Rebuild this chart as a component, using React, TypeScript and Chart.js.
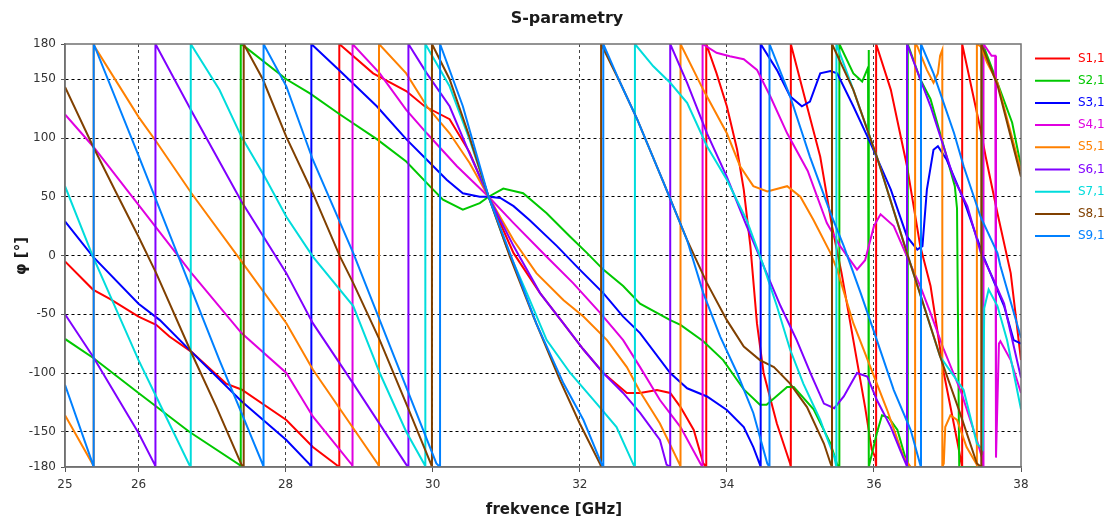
import React, { useEffect, useRef } from "react";
import { Chart, registerables } from "chart.js";

Chart.register(...registerables);

// ---------- data (GHz, degrees) ----------
const xTicks = [25, 26, 28, 30, 32, 34, 36, 38];
const yTicks = [180, 150, 100, 50, 0, -50, -100, -150, -180];
const seriesNames = ["S1,1", "S2,1", "S3,1", "S4,1", "S5,1", "S6,1", "S7,1", "S8,1", "S9,1"];
const seriesColors = ["#ff0000", "#00c800", "#0000ff", "#e000e0", "#ff8000", "#8000ff", "#00dcdc", "#804000", "#0080ff"];

const s11: [number, number][] = [
  [25, -5], [25.38, -29], [25.61, -37], [26, -52], [26.24, -59], [26.42, -69], [26.72, -82], [27.19, -109], [27.4, -114],
  [28.01, -140], [28.37, -163], [28.73, -180], [28.73, 180], [29.19, 155], [29.64, 140], [29.89, 127], [30.23, 116],
  [30.5, 88], [30.76, 50], [31.1, 2], [31.46, -32], [31.78, -58], [32.05, -80], [32.32, -100], [32.64, -117], [32.82, -117],
  [33.05, -114.5], [33.23, -117], [33.37, -129], [33.55, -148.5], [33.68, -177], [33.72, -180], [33.72, 180], [33.86, 155],
  [34.0, 127], [34.14, 90], [34.23, 56], [34.32, 8], [34.41, -58], [34.5, -100], [34.68, -143], [34.86, -177], [34.87, -180],
  [34.87, 180], [35.09, 127], [35.27, 84], [35.43, 25], [35.56, -15], [35.72, -72], [35.88, -129], [35.97, -165], [36.02, -172],
  [36.03, -180], [36.03, 180], [36.23, 141], [36.45, 76], [36.63, 8], [36.77, -26], [36.95, -100], [37.13, -157], [37.19, -177],
  [37.2, -180], [37.2, 180], [37.45, 107], [37.52, 84], [37.68, 36], [37.86, -15], [38, -89],
];
const s21: [number, number][] = [
  [25, -71], [25.38, -87], [26, -117], [26.69, -150], [27.37, -178], [27.39, -180], [27.39, 180], [27.44, 178], [28.01, 150],
  [28.33, 138], [28.74, 120], [29.24, 99], [29.64, 80], [29.96, 59], [30.14, 47.5], [30.41, 39], [30.64, 44.6], [30.76, 50],
  [30.96, 57], [31.23, 53], [31.55, 36], [31.87, 16], [32.1, 2], [32.32, -12], [32.59, -26], [32.82, -41], [33.23, -55],
  [33.37, -59], [33.68, -73], [33.95, -89], [34.23, -114], [34.45, -127], [34.54, -127], [34.82, -112], [34.91, -112],
  [35.18, -131], [35.41, -160], [35.5, -178], [35.53, -180], [35.53, 180], [35.72, 155], [35.84, 148], [35.92, 160],
  [35.93, 175], [35.93, -180], [36.04, -151], [36.11, -136], [36.2, -138], [36.32, -148.5], [36.45, -177], [36.46, -180],
  [36.46, 180], [36.63, 150], [36.77, 133], [36.9, 104], [37.1, 59], [37.13, 40], [37.16, -180], [37.48, -180], [37.48, 180],
  [37.68, 147], [37.88, 113], [38, 76],
];
const s31: [number, number][] = [
  [25, 29], [25.38, -1], [26, -41], [26.29, -55], [26.72, -82], [27.4, -124], [28.01, -157], [28.33, -178], [28.35, -180],
  [28.35, 180], [28.74, 157], [29.24, 127], [29.64, 99], [29.92, 81.5], [30.19, 64.5], [30.41, 53], [30.64, 50], [30.76, 50],
  [30.92, 49], [31.1, 42], [31.32, 30], [31.69, 8], [32.0, -12], [32.32, -32], [32.59, -52], [32.82, -66], [33.23, -100],
  [33.46, -113], [33.73, -120], [34.0, -131.5], [34.23, -146], [34.36, -163], [34.45, -178], [34.46, -180], [34.46, 180],
  [34.68, 158], [34.86, 135.5], [35.02, 127], [35.13, 131], [35.27, 155], [35.41, 157], [35.5, 155], [35.72, 127], [35.95, 96],
  [36.23, 56], [36.45, 16], [36.59, 5], [36.66, 8], [36.72, 56], [36.81, 90], [36.87, 93], [36.99, 81.5], [37.22, 47.5],
  [37.49, -1], [37.77, -43], [37.9, -72], [38, -75],
];
const s41: [number, number][] = [
  [25, 120], [25.38, 93], [26, 43], [26.72, -15], [27.4, -66], [28.01, -100], [28.37, -137], [28.9, -178], [28.91, -180],
  [28.91, 180], [29.28, 155], [29.64, 124], [29.92, 104], [30.33, 76], [30.76, 50], [31.1, 27.6], [31.55, -1], [31.91, -23.5],
  [32.28, -49], [32.59, -72], [32.82, -95], [33.09, -123], [33.37, -146], [33.64, -177], [33.67, -180], [33.67, 180],
  [33.86, 172.5], [34.04, 169.6], [34.23, 167], [34.41, 158], [34.59, 135.5], [34.82, 104], [35.1, 72], [35.36, 27.6],
  [35.54, 8], [35.77, -12], [35.88, -4], [36.0, 25], [36.09, 35], [36.27, 25], [36.45, -1], [36.63, -26], [36.77, -49],
  [36.95, -80], [37.19, -117], [37.4, -157], [37.47, -172], [37.49, -180], [37.49, 180], [37.6, 170], [37.65, 170],
  [37.66, -172], [37.7, -75], [37.72, -73], [37.86, -89], [38, -117],
];
const s51: [number, number][] = [
  [25, -136], [25.38, -178], [25.39, -180], [25.39, 180], [25.4, 178], [26, 118], [26.24, 97], [26.72, 53], [27.4, -5],
  [28.01, -57.6], [28.37, -97], [28.92, -147], [29.26, -178], [29.27, -180], [29.27, 180], [29.64, 155], [29.92, 127],
  [30.23, 104], [30.5, 79], [30.76, 50], [31.1, 13], [31.41, -15], [31.78, -38], [32.05, -52], [32.37, -72], [32.64, -95],
  [32.82, -116], [33.09, -143], [33.36, -178], [33.37, -180], [33.37, 180], [33.68, 141], [34.0, 104], [34.18, 76],
  [34.36, 59], [34.55, 54.5], [34.82, 59], [35.0, 50], [35.18, 30], [35.41, 2], [35.5, -12], [35.72, -57.6], [35.95, -94.6],
  [36.18, -131.5], [36.4, -171], [36.5, -180], [36.56, -180], [36.56, 180], [36.59, 178], [36.72, 158], [36.81, 147],
  [36.87, 155], [36.9, 170], [36.93, 175], [36.93, -180], [36.95, -177], [36.97, -146], [37.04, -136], [37.13, -140],
  [37.26, -163], [37.4, -178], [37.4, -180], [37.4, 180], [37.45, 178], [37.54, 164], [37.68, 147], [38, 72],
];
const s61: [number, number][] = [
  [25, -50], [25.38, -86], [26, -151], [26.22, -178], [26.23, -180], [26.23, 180], [26.72, 123], [27.4, 46], [28.01, -15],
  [28.37, -57.6], [28.92, -109], [29.64, -178], [29.67, -180], [29.67, 180], [29.92, 155], [30.23, 127], [30.5, 87],
  [30.76, 50], [31.1, 8], [31.46, -32], [31.78, -58], [32.05, -80], [32.32, -100], [32.59, -117], [32.82, -134],
  [33.09, -157], [33.18, -178], [33.23, -180], [33.23, 180], [33.46, 147], [33.73, 104], [34.0, 67], [34.27, 25], [34.5, -9],
  [34.73, -43], [34.95, -72], [35.15, -102], [35.32, -126], [35.46, -130], [35.59, -120], [35.77, -100], [35.91, -103],
  [36.04, -123], [36.23, -146], [36.36, -166], [36.44, -178], [36.45, -180], [36.45, 180], [36.63, 150], [36.77, 127],
  [37.09, 65], [37.27, 42], [37.45, 3], [37.63, -21], [37.77, -41], [37.86, -66], [38, -104],
];
const s71: [number, number][] = [
  [25, 59], [25.38, -1], [26, -89], [26.24, -120], [26.69, -178], [26.71, -180], [26.71, 180], [27.1, 141], [27.4, 101],
  [27.69, 70], [28.01, 33], [28.37, -1], [28.92, -43], [29.28, -100], [29.64, -150], [29.89, -178], [29.9, -180], [29.9, 180],
  [30.23, 144], [30.5, 99], [30.76, 50], [31.0, 8], [31.28, -32], [31.55, -72], [31.87, -100], [32.23, -126], [32.5, -146],
  [32.73, -178], [32.75, -180], [32.75, 180], [33.0, 161], [33.23, 147], [33.46, 130], [33.73, 93], [34.0, 64.5], [34.27, 30],
  [34.5, -9], [34.68, -43], [34.86, -80], [35.04, -109], [35.27, -140], [35.32, -148.5], [35.46, -171], [35.49, -180],
  [35.49, 180], [35.72, 141], [36.04, 84], [36.45, 2], [36.9, -86], [37.22, -114.5], [37.4, -160], [37.48, -165],
  [37.5, -45], [37.56, -29], [37.68, -43], [37.81, -72], [38, -131],
];
const s81: [number, number][] = [
  [25, 143.5], [25.38, 93], [25.7, 53], [26, 16], [26.24, -15], [26.72, -83], [27.06, -129], [27.4, -178], [27.43, -180],
  [27.43, 180], [27.69, 150], [28.01, 101], [28.37, 53], [28.74, -1], [28.92, -23.5], [29.28, -72], [29.64, -126],
  [29.98, -178], [29.99, -180], [29.99, 180], [30.23, 150], [30.5, 101], [30.76, 50], [31.05, -1], [31.37, -52],
  [31.73, -106], [32.0, -143], [32.28, -178], [32.29, -180], [32.29, 180], [32.55, 147], [32.78, 116], [33.14, 62],
  [33.46, 13], [33.73, -23.5], [34.0, -55], [34.23, -77.5], [34.45, -89], [34.64, -95], [34.86, -109], [35.09, -129],
  [35.32, -160], [35.41, -177], [35.43, -180], [35.43, 180], [35.72, 141], [36.04, 84], [36.45, 2], [36.9, -86],
  [37.17, -134], [37.4, -177], [37.46, -180], [37.46, 180], [37.68, 145], [38, 67],
];
const s91: [number, number][] = [
  [25, -110], [25.38, -178], [25.39, -180], [25.39, 180], [26, 85], [26.72, -29], [27.1, -89], [27.4, -134], [27.69, -178],
  [27.7, -180], [27.7, 180], [28.01, 144], [28.37, 81.5], [28.92, 2], [29.28, -55], [29.64, -112], [30.05, -177], [30.1, -180],
  [30.1, 180], [30.41, 127], [30.76, 50], [31.05, 2], [31.41, -58], [31.78, -109], [32.05, -140], [32.3, -178], [32.32, -180],
  [32.32, 180], [32.55, 147], [32.78, 116], [33.14, 62], [33.46, 13], [33.68, -32], [33.91, -69], [34.14, -100], [34.36, -134],
  [34.55, -177], [34.58, -180], [34.58, 180], [34.86, 135.5], [35.13, 84], [35.41, 36], [35.59, 8], [35.82, -32], [36.04, -72],
  [36.27, -114.5], [36.5, -148.5], [36.63, -178], [36.64, -180], [36.64, 180], [36.81, 155], [37.09, 104], [37.22, 76],
  [37.45, 33], [37.68, 2], [37.72, -9], [38, -70],
];
const seriesData = [s11, s21, s31, s41, s51, s61, s71, s81, s91];

// ---------- layout / style ----------
const W = 1117;
const H = 526;
const FONT = '"DejaVu Sans", Verdana, sans-serif';
const TRANSPARENT = "rgba(0,0,0,0)";

export default function App() {
  const canvasRef = useRef<HTMLCanvasElement>(null);

  useEffect(() => {
    const canvas = canvasRef.current;
    if (!canvas) return;

    const overlay = {
      id: "overlay",
      afterDraw(chart: any) {
        const { ctx, chartArea: ca } = chart;
        ctx.save();
        // plot frame
        ctx.strokeStyle = "#707070";
        ctx.lineWidth = 1.5;
        ctx.strokeRect(ca.left, ca.top, ca.right - ca.left, ca.bottom - ca.top);
        // titles
        ctx.fillStyle = "#1a1a1a";
        ctx.textAlign = "center";
        ctx.textBaseline = "middle";
        ctx.font = `bold 16px ${FONT}`;
        ctx.fillText("S-parametry", 567, 19);
        ctx.font = `bold 15px ${FONT}`;
        ctx.fillText("frekvence [GHz]", 554, 510);
        ctx.save();
        ctx.translate(22, 256);
        ctx.rotate(-Math.PI / 2);
        ctx.fillText("φ [°]", 0, 0);
        ctx.restore();
        // legend
        ctx.textAlign = "left";
        ctx.font = `12px ${FONT}`;
        seriesNames.forEach((name, i) => {
          const y = 58.5 + 22.2 * i;
          ctx.strokeStyle = seriesColors[i];
          ctx.lineWidth = 2;
          ctx.beginPath();
          ctx.moveTo(1035, y);
          ctx.lineTo(1070, y);
          ctx.stroke();
          ctx.fillStyle = seriesColors[i];
          ctx.fillText(name, 1078, y);
        });
        ctx.restore();
      },
    };

    const chart = new Chart(canvas, {
      type: "line",
      data: {
        datasets: seriesData.map((d, i) => ({
          label: seriesNames[i],
          data: d.map(([x, y]) => ({ x, y })),
          borderColor: seriesColors[i],
          backgroundColor: seriesColors[i],
          borderWidth: 2,
          pointRadius: 0,
          pointHoverRadius: 0,
          tension: 0,
          fill: false,
          order: seriesData.length - i,
        })),
      },
      options: {
        animation: false,
        responsive: false,
        devicePixelRatio: 1,
        events: [],
        layout: { padding: { top: 44, right: 96, bottom: 0, left: 0 } },
        plugins: {
          legend: { display: false },
          title: { display: false },
          tooltip: { enabled: false },
        },
        scales: {
          x: {
            type: "linear",
            min: 25,
            max: 38,
            afterBuildTicks: (s: any) => {
              s.ticks = xTicks.map((v) => ({ value: v }));
            },
            afterFit: (s: any) => {
              s.height = 59;
            },
            ticks: {
              color: "#333",
              font: { family: FONT, size: 12 },
              padding: 6,
              maxRotation: 0,
              autoSkip: false,
              callback: (v: any) => String(v),
            },
            grid: {
              color: (c: any) => (c.tick && (c.tick.value === 25 || c.tick.value === 38) ? TRANSPARENT : "#444"),
              lineWidth: 1,
              drawTicks: true,
              tickLength: 5,
              tickColor: "#555",
            },
            border: { display: true, color: "#707070", width: 1.5, dash: [3, 3] },
          },
          y: {
            type: "linear",
            min: -180,
            max: 180,
            afterBuildTicks: (s: any) => {
              s.ticks = yTicks.map((v) => ({ value: v }));
            },
            afterFit: (s: any) => {
              s.width = 65;
            },
            ticks: {
              color: "#333",
              font: { family: FONT, size: 12 },
              padding: 5,
              autoSkip: false,
              callback: (v: any) => String(v),
            },
            grid: {
              color: (c: any) => (c.tick && Math.abs(c.tick.value) === 180 ? TRANSPARENT : "#000"),
              lineWidth: 1,
              drawTicks: true,
              tickLength: 4,
              tickColor: "#555",
            },
            border: { display: true, color: "#707070", width: 1.5, dash: [3, 3] },
          },
        },
      },
      plugins: [overlay],
    });

    return () => chart.destroy();
  }, []);

  return (
    <div style={{ position: "fixed", left: 0, top: 0, width: W, height: H, background: "#fff" }}>
      <canvas ref={canvasRef} width={W} height={H} style={{ width: W, height: H, display: "block" }} />
    </div>
  );
}
